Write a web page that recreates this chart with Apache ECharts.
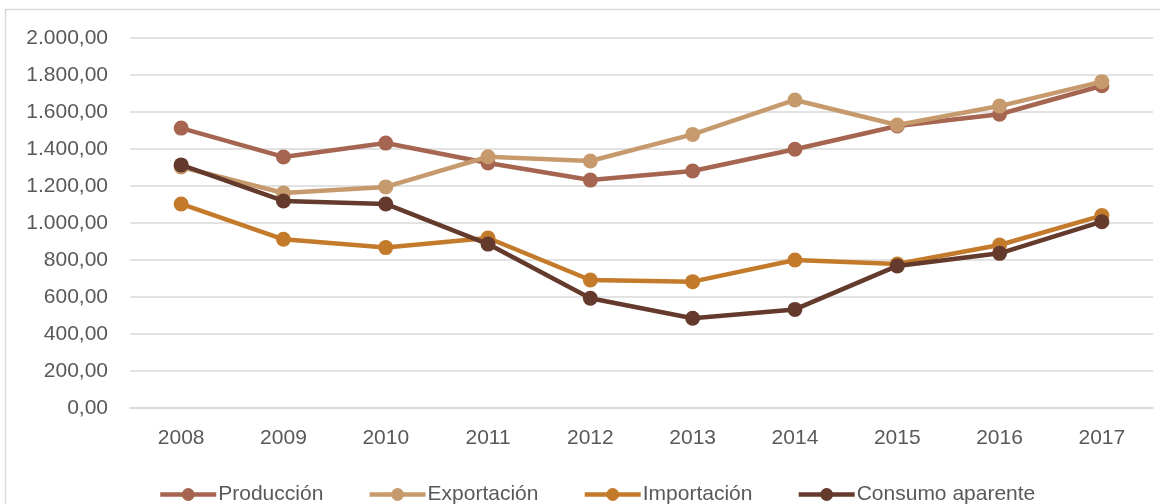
<!DOCTYPE html>
<html>
<head>
<meta charset="utf-8">
<script src="https://cdn.jsdelivr.net/npm/echarts@6/dist/echarts.min.js"></script>
<style>
  html, body { margin: 0; padding: 0; background: #ffffff; }
  #chart { width: 1160px; height: 504px; }
</style>
</head>
<body>
<div id="chart"></div>
<script>
// Years on the category axis
const years = ['2008', '2009', '2010', '2011', '2012', '2013', '2014', '2015', '2016', '2017'];

// Series values
const produccion = [1513, 1357, 1432, 1324, 1232, 1281, 1399, 1524, 1588, 1742];
const exportacion = [1303, 1162, 1195, 1358, 1335, 1479, 1665, 1530, 1632, 1764];
const importacion = [1103, 912, 867, 919, 692, 683, 800, 778, 881, 1040];
const consumo = [1314, 1119, 1103, 886, 593, 485, 533, 768, 836, 1007];

const seriesNames = ['Producción', 'Exportación', 'Importación', 'Consumo aparente'];
const seriesColors = ['#A66550', '#C69A6D', '#C47A2B', '#643A2D'];
const seriesData = [produccion, exportacion, importacion, consumo];

// Value axis range
const yMin = 0, yMax = 2000, yStep = 200;

// Spanish number format: thousands with '.', decimals with ','
function fmt(v) {
  const parts = v.toFixed(2).split('.');
  parts[0] = parts[0].replace(/\B(?=(\d{3})+(?!\d))/g, '.');
  return parts[0] + ',' + parts[1];
}

const FONT = 'Liberation Sans';
const chart = echarts.init(document.getElementById('chart'), null, { renderer: 'canvas' });

chart.setOption({
  animation: false,
  backgroundColor: '#ffffff',
  textStyle: { fontFamily: FONT },
  graphic: [{
    type: 'rect',
    shape: { x: 5.5, y: 9.5, width: 1170, height: 510 },
    style: { fill: 'none', stroke: '#D9D9D9', lineWidth: 1.5 },
    silent: true,
    z: -1
  }],
  grid: { left: 130, right: 7, top: 38, bottom: 96, containLabel: false },
  legend: {
    top: 479,
    left: 153,
    itemWidth: 56,
    itemHeight: 16,
    itemGap: 44,
    lineStyle: { width: 4.5 },
    textStyle: { fontFamily: FONT, fontSize: 21, color: '#595959', padding: [0, 0, 0, -3] },
    data: seriesNames
  },
  xAxis: {
    type: 'category',
    data: years,
    boundaryGap: true,
    axisLine: { show: true, lineStyle: { color: '#D9D9D9', width: 1.5 } },
    axisTick: { show: false },
    axisLabel: { fontFamily: FONT, fontSize: 21, color: '#595959', margin: 20 }
  },
  yAxis: {
    type: 'value',
    min: yMin,
    max: yMax,
    interval: yStep,
    axisLine: { show: false },
    axisTick: { show: false },
    splitLine: { lineStyle: { color: '#D9D9D9', width: 1.5 } },
    axisLabel: { fontFamily: FONT, fontSize: 21, color: '#595959', margin: 22, formatter: fmt }
  },
  series: seriesNames.map((name, i) => ({
    name: name,
    type: 'line',
    data: seriesData[i],
    color: seriesColors[i],
    symbol: 'circle',
    symbolSize: 15,
    showAllSymbol: true,
    lineStyle: { width: 4.5, color: seriesColors[i] },
    itemStyle: { color: seriesColors[i] },
    z: 2 + i
  }))
});
</script>
</body>
</html>
